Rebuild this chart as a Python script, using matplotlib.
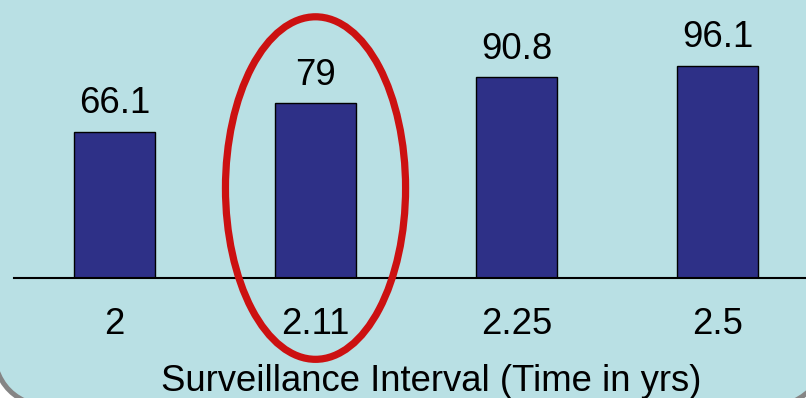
import matplotlib
matplotlib.use("Agg")
import matplotlib.pyplot as plt
from matplotlib.patches import FancyBboxPatch, Ellipse

plt.rcParams['font.family'] = ['Liberation Sans', 'DejaVu Sans']

# surveillance interval (yrs) vs value
intervals = ['2', '2.11', '2.25', '2.5']
values = [66.1, 79, 90.8, 96.1]
highlight = 1  # the 2.11 bar gets circled

fs = 26.3

fig = plt.figure(figsize=(8.06, 3.98), dpi=100, facecolor='white')

# rounded light-blue panel behind everything (pixel coords)
panel = FancyBboxPatch((-8, -10), 835, 500,
                       boxstyle="round,pad=0,rounding_size=70",
                       transform=None, facecolor='#b9e0e4',
                       edgecolor='#858585', linewidth=3.6, zorder=0)
fig.add_artist(panel)

ax = fig.add_axes([14 / 806, 1 - 278 / 398, 1 - 14 / 806, 278 / 398])
ax.set_facecolor('none')

x = range(len(values))
ax.bar(x, values, width=0.4, color='#2e3087', edgecolor='black', linewidth=1.0)

for i, v in zip(x, values):
    ax.annotate(f'{v:g}', (i, v), xytext=(0, 13.5), textcoords='offset points',
                ha='center', va='baseline', fontsize=fs)

ax.set_xlim(-0.5, 3.44)
ax.set_ylim(0, 125.8)
ax.set_xticks(list(x))
ax.set_xticklabels(intervals, fontsize=fs)
ax.tick_params(axis='x', length=0, pad=21)
ax.set_yticks([])
for side in ['top', 'left', 'right']:
    ax.spines[side].set_visible(False)
ax.spines['bottom'].set_linewidth(1.5)

# red ring around the highlighted bar
ring = Ellipse((highlight, 40.7), 0.896, 155, fill=False,
               edgecolor='#cc1111', linewidth=5.2, clip_on=False, zorder=5)
ax.add_patch(ring)

fig.text(431 / 806, 7 / 398, 'Surveillance Interval (Time in yrs)',
         ha='center', va='baseline', fontsize=fs)

fig.savefig('out.png', dpi=100)
